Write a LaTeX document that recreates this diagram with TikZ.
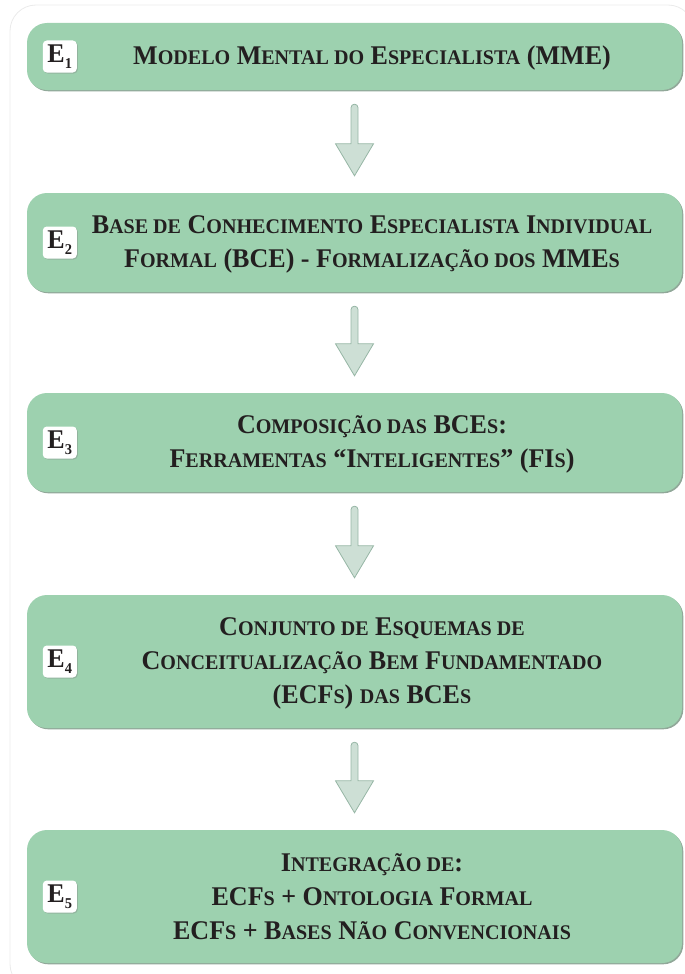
\documentclass[tikz,border=0pt]{standalone}
\usepackage{fontspec}
\setmainfont{Liberation Serif}[FakeStretch=0.965]
\usetikzlibrary{calc,shadows}

\definecolor{stagegreen}{RGB}{157,209,175}
\definecolor{stageshade}{RGB}{118,146,128}
\definecolor{arrowfill}{RGB}{205,223,213}
\definecolor{arrowedge}{RGB}{150,182,165}
\definecolor{inkdark}{RGB}{35,31,32}
\definecolor{frameline}{RGB}{234,234,234}

% lower-case part of the hand-made small capitals
\newcommand\sml[1]{{\fontsize{20.8}{20.8}\selectfont #1}}
\newcommand\stagefont{\fontsize{27}{34}\selectfont\bfseries}
\newcommand\tagfont{\fontsize{27}{27}\selectfont\bfseries}
\newcommand\tagsub[1]{\raisebox{-6.5pt}{\fontsize{15}{15}\selectfont #1}}

% block arrow from coordinate #1 (top of shaft) to coordinate #2 (tip)
\newcommand\stagearrow[2]{%
  \draw[flowarrow] ($(#2)+(-3.5,-32)$) [rounded corners=3.4pt]
    -- ($(#1)+(-3.5,0)$) -- ($(#1)+(3.5,0)$) [sharp corners]
    -- ($(#2)+(3.5,-32)$) -- ($(#2)+(19,-32)$) -- (#2)
    -- ($(#2)+(-19,-32)$) -- cycle;}

\tikzset{
  stagebox/.style={fill=stagegreen, rounded corners=20pt, minimum width=655pt,
    inner sep=0pt,
    drop shadow={shadow xshift=1.3pt, shadow yshift=-1.3pt, fill=stageshade, opacity=0.8}},
  stagetext/.style={align=center, text=inkdark, font=\stagefont, inner sep=0pt},
  steptag/.style={fill=white, rounded corners=4pt, minimum width=34pt,
    minimum height=32pt, inner sep=0pt, text=inkdark, font=\tagfont,
    drop shadow={shadow xshift=1pt, shadow yshift=-1pt, opacity=0.35}},
  flowarrow/.style={fill=arrowfill, draw=arrowedge, line width=0.8pt}
}

\begin{document}
\begin{tikzpicture}[x=1pt,y=-1pt]
\useasboundingbox (0,0) rectangle (685,974);

% outer frame
\draw[frameline, line width=0.8pt, rounded corners=26pt] (10,5) rectangle (694,990);

% stage boxes
\node[stagebox, minimum height=67pt]  (b1) at (354.5,56.5) {};
\node[stagebox, minimum height=99pt]  (b2) at (354.5,242.5) {};
\node[stagebox, minimum height=99pt]  (b3) at (354.5,442.5) {};
\node[stagebox, minimum height=133pt] (b4) at (354.5,661.5) {};
\node[stagebox, minimum height=133pt] (b5) at (354.5,896.5) {};

% stage tags
\node[steptag] (e1) at ($(b1.west)+(33,0)$) {E\tagsub{1}};
\node[steptag] (e2) at ($(b2.west)+(33,0)$) {E\tagsub{2}};
\node[steptag] (e3) at ($(b3.west)+(33,0)$) {E\tagsub{3}};
\node[steptag] (e4) at ($(b4.west)+(33,0)$) {E\tagsub{4}};
\node[steptag] (e5) at ($(b5.west)+(33,0)$) {E\tagsub{5}};

% stage titles
\node[stagetext] (t1) at ($(b1.center)+(17.5,2)$)
  {M\sml{ODELO} M\sml{ENTAL DO} E\sml{SPECIALISTA} (MME)};
\node[stagetext] (t2) at ($(b2.center)+(17.5,2)$)
  {B\sml{ASE DE} C\sml{ONHECIMENTO} E\sml{SPECIALISTA} I\sml{NDIVIDUAL}\\
   F\sml{ORMAL} (BCE) - F\sml{ORMALIZAÇÃO DOS} MME\sml{S}};
\node[stagetext] (t3) at ($(b3.center)+(17.5,2)$)
  {C\sml{OMPOSIÇÃO DAS} BCE\sml{S}:\\
   F\sml{ERRAMENTAS} “I\sml{NTELIGENTES}” (FI\sml{S})};
\node[stagetext] (t4) at ($(b4.center)+(17.5,2)$)
  {C\sml{ONJUNTO DE} E\sml{SQUEMAS DE}\\
   C\sml{ONCEITUALIZAÇÃO} B\sml{EM} F\sml{UNDAMENTADO}\\
   (ECF\sml{S}) \sml{DAS} BCE\sml{S}};
\node[stagetext] (t5) at ($(b5.center)+(17.5,0)$)
  {I\sml{NTEGRAÇÃO DE}:\\
   ECF\sml{S} + O\sml{NTOLOGIA} F\sml{ORMAL}\\
   ECF\sml{S} + B\sml{ASES} N\sml{ÃO} C\sml{ONVENCIONAIS}};

% connectors between stages
\foreach \a/\b/\n in {b1/b2/1, b2/b3/2, b3/b4/3, b4/b5/4} {
  \coordinate (s\n) at ($(\a.south)+(0,14)$);
  \coordinate (t\n) at ($(\b.north)+(0,-17)$);
  \stagearrow{s\n}{t\n}
}
\end{tikzpicture}
\end{document}
